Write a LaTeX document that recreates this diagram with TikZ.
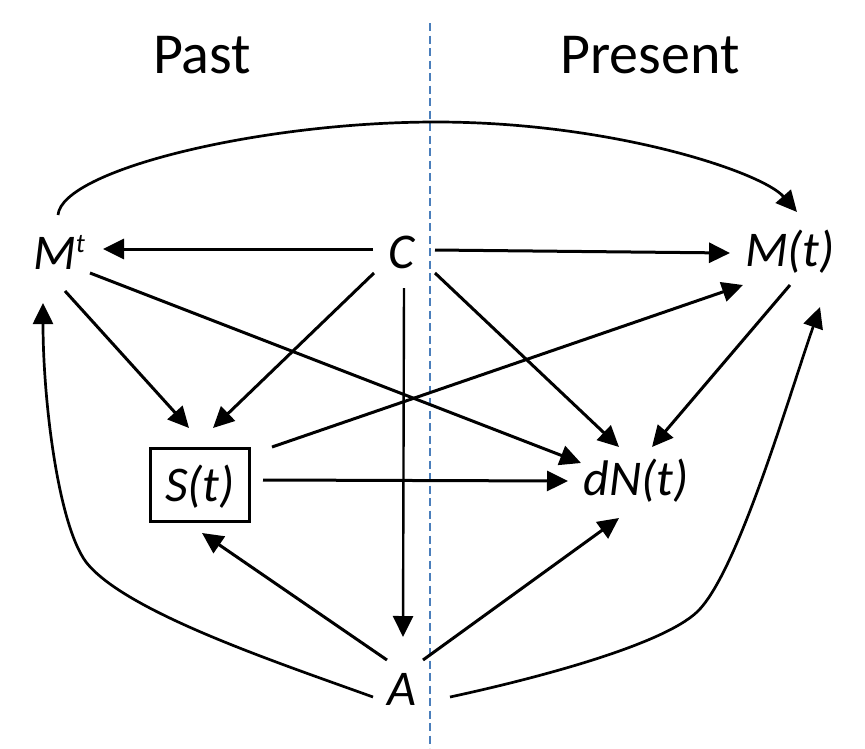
\documentclass[tikz,border=0pt]{standalone}
\usepackage{fontspec}
\setmainfont{Carlito}
\usetikzlibrary{arrows.meta,calc}
\definecolor{dashblue}{HTML}{4A7EBB}
\begin{document}
\begin{tikzpicture}[x=1pt,y=-1pt,
  var/.style={font=\fontsize{50}{60}\selectfont\itshape, inner sep=0pt, anchor=base},
  hdr/.style={font=\fontsize{58}{70}\selectfont, inner sep=0pt, anchor=base},
  tipstyle/.style={-{Triangle[length=21pt,width=20pt]}},
  arr/.style={line width=3pt, tipstyle},
  varr/.style={line width=2.4pt, tipstyle},
  carr/.style={line width=2.7pt, tipstyle},
  boxnode/.style={draw, line width=2.8pt, minimum width=99pt, minimum height=73pt,
    text height=33pt, text depth=0pt, inner sep=0pt,
    font=\fontsize{50}{60}\selectfont\itshape},
  divider/.style={dashblue, line width=2pt, dash pattern=on 8pt off 4.5pt}
]
\useasboundingbox (0,0) rectangle (865,748);
\fill[white] (0,0) rectangle (865,748);
\draw[divider] (430,23) -- (430,748);

\node[hdr] (past) at (202,73) {Past};
\node[hdr] (present) at (650,73) {Present};

\node[var] (Mt) at (59,269) {M\raisebox{17pt}{\fontsize{27}{27}\selectfont t}};
\node[var] (C) at (402,268) {C};
\node[var] (Mtt) at (790,266) {M(t)};
\node[boxnode] (S) at (200,485) {S(t)};
\node[var] (dN) at (636,495) {dN(t)};
\node[var] (A) at (402,705) {A};

% straight connectors
\draw[arr] ($(C.base)+(-29,-19)$) -- ($(Mt.base)+(44,-20)$);
\draw[arr] ($(C.base)+(33,-18)$) -- ($(Mtt.base)+(-60,-13)$);
\draw[arr] ($(C.base)+(-28,5)$) -- ($(S.center)+(13,-57)$);
\draw[varr] ($(C.base)+(2,20)$) -- ($(A.base)+(1,-68)$);
\draw[arr] ($(C.base)+(33,5)$) -- ($(dN.base)+(-17,-48)$);
\draw[arr] ($(Mt.base)+(6,22)$) -- ($(S.center)+(-11,-57)$);
\draw[arr] ($(Mt.base)+(31,4)$) -- ($(dN.base)+(-55,-32)$);
\draw[arr] ($(S.center)+(72,-38)$) -- ($(Mtt.base)+(-47,19)$);
\draw[arr] ($(S.center)+(63,-5)$) -- ($(dN.base)+(-68,-14)$);
\draw[arr] ($(Mtt.base)+(0,19)$) -- ($(dN.base)+(16,-48)$);
\draw[arr] ($(A.base)+(-15,-45)$) -- ($(S.center)+(2,48)$);
\draw[arr] ($(A.base)+(21,-45)$) -- ($(dN.base)+(-17,23)$);

% curved connectors
\draw[carr] ($(Mt.base)+(-1,-54)$) .. controls (62,170) and (260,122) .. (436,122)
  .. controls (612,122) and (762,172) .. ($(Mtt.base)+(7,-54)$);
\draw[carr] ($(A.base)+(48,-8)$) .. controls (538,678) and (662,645) .. (697,612)
  .. controls (737,574) and (787,402) .. ($(Mtt.base)+(30,41)$);
\draw[carr] ($(A.base)+(-29,-8)$) .. controls (279,663) and (125,612) .. (86,562)
  .. controls (58,524) and (43,400) .. ($(Mt.base)+(-16,34)$);
\end{tikzpicture}
\end{document}
